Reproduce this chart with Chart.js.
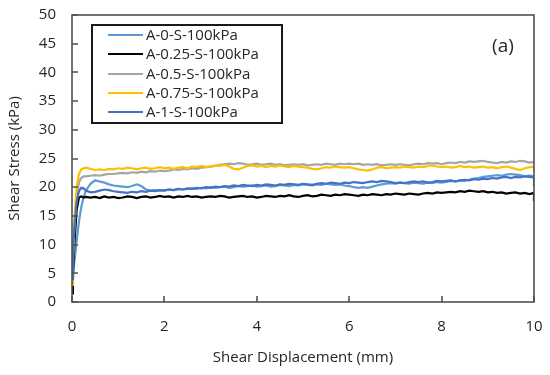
<!DOCTYPE html>
<html>
<head>
<meta charset="utf-8">
<script src="https://cdn.jsdelivr.net/npm/chart.js@4.4.1/dist/chart.umd.min.js"></script>
<style>
  html, body { margin: 0; padding: 0; background: #fff; overflow: hidden; }
  #wrap { width: 550px; height: 375px; }
  canvas { display: block; }
</style>
</head>
<body>
<div id="wrap"><canvas id="chart" width="550" height="375"></canvas></div>
<script>
// series names and colours (Excel palette)
const seriesNames = ['A-0-S-100kPa', 'A-0.25-S-100kPa', 'A-0.5-S-100kPa', 'A-0.75-S-100kPa', 'A-1-S-100kPa'];
const seriesColors = ['#5B9BD5', '#000000', '#A5A5A5', '#FFC000', '#4472C4'];

const xTicks = [0, 2, 4, 6, 8, 10];
const yTicks = [0, 5, 10, 15, 20, 25, 30, 35, 40, 45, 50];

// shear displacement (mm)
const disp = [
  0, 0.02, 0.05, 0.1, 0.15, 0.2, 0.25, 0.3, 0.4, 0.5, 0.6, 0.7, 0.8, 0.9, 1.0,
  1.1, 1.2, 1.3, 1.4, 1.5, 1.6, 1.7, 1.8, 1.9, 2.0,
  2.1, 2.2, 2.3, 2.4, 2.5, 2.6, 2.7, 2.8, 2.9, 3.0,
  3.1, 3.2, 3.3, 3.4, 3.5, 3.6, 3.7, 3.8, 3.9, 4.0,
  4.1, 4.2, 4.3, 4.4, 4.5, 4.6, 4.7, 4.8, 4.9, 5.0,
  5.1, 5.2, 5.3, 5.4, 5.5, 5.6, 5.7, 5.8, 5.9, 6.0,
  6.1, 6.2, 6.3, 6.4, 6.5, 6.6, 6.7, 6.8, 6.9, 7.0,
  7.1, 7.2, 7.3, 7.4, 7.5, 7.6, 7.7, 7.8, 7.9, 8.0,
  8.1, 8.2, 8.3, 8.4, 8.5, 8.6, 8.7, 8.8, 8.9, 9.0,
  9.1, 9.2, 9.3, 9.4, 9.5, 9.6, 9.7, 9.8, 9.9, 10.0,
  10.0
];

// shear stress (kPa) per specimen
const stressA0 = [
  2, 4, 7, 10.5, 14, 16.5, 18.2, 19.4, 20.6, 21.2, 21.0, 20.8, 20.5, 20.3, 20.2,
  20.1, 20.0, 20.2, 20.5, 20.2, 19.6, 19.4, 19.5, 19.4, 19.5,
  19.6, 19.5, 19.7, 19.6, 19.7, 19.8, 19.7, 19.9, 19.8, 20.0,
  19.9, 20.0, 20.1, 19.9, 20.0, 20.2, 20.1, 20.2, 20.3, 20.1,
  20.2, 20.3, 20.1, 20.2, 20.4, 20.3, 20.2, 20.4, 20.3, 20.5,
  20.4, 20.3, 20.5, 20.4, 20.6, 20.5, 20.4, 20.5, 20.3, 20.2,
  20.0, 19.9, 20.0, 19.9, 20.1, 20.3, 20.5, 20.6, 20.7, 20.6,
  20.8, 20.7, 20.6, 20.8, 20.7, 20.6, 20.8, 20.7, 20.9, 20.8,
  20.9, 21.1, 21.0, 21.2, 21.1, 21.3, 21.5, 21.6, 21.8, 21.9,
  22.0, 22.1, 22.0, 22.2, 22.3, 22.2, 22.1, 21.9, 22.0, 21.9,
  21.6
];
const stressA025 = [
  1.5, 5, 10, 16, 18.2, 18.4, 18.2, 18.3, 18.2, 18.3, 18.1, 18.4, 18.2, 18.3, 18.1,
  18.2, 18.4, 18.3, 18.1, 18.3, 18.4, 18.2, 18.3, 18.5, 18.3,
  18.4, 18.2, 18.4, 18.3, 18.5, 18.3, 18.4, 18.2, 18.3, 18.4,
  18.3, 18.5, 18.4, 18.2, 18.3, 18.4, 18.5, 18.3, 18.4, 18.2,
  18.3, 18.5, 18.4, 18.3, 18.5, 18.4, 18.6, 18.4, 18.3, 18.5,
  18.6, 18.4, 18.5, 18.7, 18.6, 18.5, 18.7, 18.6, 18.8, 18.7,
  18.6, 18.5, 18.7, 18.6, 18.8, 18.7, 18.6, 18.8, 18.7, 18.9,
  18.8, 18.7, 18.9, 18.8, 18.7, 18.9, 19.0, 18.9, 19.1, 19.0,
  19.1, 19.2, 19.1, 19.3, 19.2, 19.4, 19.3, 19.2, 19.3, 19.1,
  19.2, 19.0, 19.1, 18.9, 19.0, 19.1, 18.9, 19.0, 18.8, 19.0,
  17.6
];
const stressA05 = [
  3, 7, 13, 18.5, 20.8, 21.6, 21.9, 21.9, 22.0, 22.1, 22.0, 22.2, 22.3, 22.3, 22.4,
  22.5, 22.4, 22.6, 22.5, 22.7, 22.6, 22.8, 22.7, 22.9, 22.8,
  22.9, 23.1, 23.0, 23.2, 23.1, 23.3, 23.2, 23.4, 23.5, 23.6,
  23.7, 23.9, 24.0, 24.1, 24.0, 24.2, 24.1, 23.9, 24.0, 24.1,
  23.9, 24.0, 24.1, 23.9, 24.0, 23.8, 23.9, 24.0, 23.9, 24.0,
  23.8, 23.9, 24.0, 23.9, 24.1, 24.0, 23.9, 24.1, 24.0, 24.1,
  24.0, 24.1, 23.9, 24.0, 23.9, 24.0, 23.8, 23.9, 24.0, 23.9,
  24.0, 23.9, 23.8, 24.0, 24.1, 24.0, 24.2, 24.1, 24.2, 24.0,
  24.2, 24.3, 24.2, 24.4, 24.3, 24.5, 24.4, 24.5, 24.6, 24.4,
  24.3, 24.2, 24.4, 24.3, 24.5, 24.4, 24.6, 24.5, 24.3, 24.4,
  24.0
];
const stressA075 = [
  3, 8, 14, 20, 22.3, 23.1, 23.3, 23.4, 23.2, 23.0, 23.1, 23.0, 23.2, 23.1, 23.3,
  23.2, 23.4, 23.3, 23.1, 23.3, 23.4, 23.2, 23.3, 23.5, 23.3,
  23.4, 23.2, 23.4, 23.5, 23.3, 23.6, 23.5, 23.7, 23.5, 23.6,
  23.8, 23.7, 23.9, 23.6, 23.2, 23.1, 23.4, 23.7, 23.8, 23.6,
  23.7, 23.5, 23.7, 23.6, 23.8, 23.6, 23.5, 23.7, 23.6, 23.5,
  23.4, 23.2, 23.1, 23.3, 23.5, 23.4, 23.6, 23.5, 23.4, 23.5,
  23.3, 23.1, 23.0, 22.9, 23.1, 23.4, 23.5, 23.3, 23.4, 23.5,
  23.4, 23.6, 23.5, 23.4, 23.6, 23.5, 23.7, 23.8, 23.6, 23.5,
  23.6, 23.4, 23.5, 23.7, 23.5, 23.6, 23.4, 23.5, 23.6, 23.4,
  23.5, 23.3, 23.5, 23.6, 23.4, 23.2, 23.0, 23.3, 23.5, 23.6,
  22.8
];
const stressA1 = [
  4, 8, 13, 17.5, 19.3, 19.9, 19.8, 19.4, 19.1, 19.2, 19.4, 19.6, 19.5, 19.3, 19.2,
  19.1, 19.0, 19.2, 19.1, 19.3, 19.2, 19.4, 19.3, 19.5, 19.4,
  19.6, 19.5, 19.7, 19.6, 19.8, 19.7, 19.9, 19.8, 20.0, 19.9,
  20.1, 20.0, 20.2, 20.1, 20.3, 20.2, 20.4, 20.3, 20.2, 20.4,
  20.3, 20.5, 20.4, 20.3, 20.5, 20.4, 20.6, 20.5, 20.4, 20.6,
  20.5, 20.4, 20.6, 20.7, 20.6, 20.8, 20.7, 20.6, 20.8, 20.7,
  20.9, 20.8, 20.7, 20.9, 21.0, 20.9, 21.1, 21.0, 20.9, 20.7,
  20.8, 20.7, 20.9, 21.0, 20.9, 21.0, 20.8, 20.9, 21.1, 21.0,
  21.1, 21.2, 21.0, 21.2, 21.3, 21.2, 21.4, 21.3, 21.5, 21.4,
  21.6, 21.5, 21.7, 21.8, 21.6, 21.8, 21.7, 21.9, 21.8, 21.7,
  20.2
];
const allStress = [stressA0, stressA025, stressA05, stressA075, stressA1];

const FONT = "'Open Sans', sans-serif";
const TEXT = '#262626';
Chart.defaults.font.family = FONT;
Chart.defaults.font.size = 15;
Chart.defaults.color = TEXT;

// frame, inner tick marks, boxed legend and the (a) label
const frameAndLegend = {
  id: 'frameAndLegend',
  afterDraw(chart) {
    const { ctx, chartArea: a, scales: { x, y } } = chart;
    const L = Math.round(a.left), R = Math.round(a.right);
    const T = Math.round(a.top), B = Math.round(a.bottom);
    ctx.save();
    ctx.setLineDash([]);
    ctx.globalAlpha = 1;
    ctx.strokeStyle = '#505050';
    ctx.lineWidth = 1.6;
    ctx.strokeRect(L, T, R - L, B - T);
    ctx.beginPath();
    xTicks.forEach(v => {
      const px = Math.round(x.getPixelForValue(v));
      ctx.moveTo(px, B);
      ctx.lineTo(px, B - 6);
    });
    yTicks.forEach(v => {
      const py = Math.round(y.getPixelForValue(v));
      ctx.moveTo(L, py);
      ctx.lineTo(L + 6, py);
    });
    ctx.stroke();

    // legend box: white fill, 2px dark border
    const bx = 92, by = 25, bw = 190, bh = 98;
    ctx.fillStyle = '#ffffff';
    ctx.fillRect(bx, by, bw, bh);
    ctx.fillStyle = '#1a1a1a';
    ctx.fillRect(bx - 1, by - 1, bw + 2, 2);
    ctx.fillRect(bx - 1, by + bh - 1, bw + 2, 2);
    ctx.fillRect(bx - 1, by - 1, 2, bh + 2);
    ctx.fillRect(bx + bw - 1, by - 1, 2, bh + 2);

    ctx.font = '15px ' + FONT;
    ctx.textBaseline = 'middle';
    ctx.textAlign = 'left';
    chart.data.datasets.forEach((ds, i) => {
      const cy = Math.round(35 + i * 19.3);
      ctx.fillStyle = ds.borderColor;
      ctx.fillRect(108, cy - 1, 35, 2);
      ctx.fillStyle = TEXT;
      ctx.fillText(ds.label, 146, cy + 1);
    });

    ctx.font = '19px ' + FONT;
    ctx.textAlign = 'center';
    ctx.fillText('(a)', 503, 47);
    ctx.restore();
  }
};

new Chart(document.getElementById('chart'), {
  type: 'line',
  data: {
    datasets: seriesNames.map((name, i) => ({
      label: name,
      data: disp.map((d, k) => ({ x: d, y: allStress[i][k] })),
      borderColor: seriesColors[i],
      backgroundColor: seriesColors[i],
      borderWidth: 2.2,
      pointRadius: 0,
      tension: 0,
      fill: false,
      order: seriesNames.length - i
    }))
  },
  options: {
    responsive: false,
    animation: false,
    layout: { padding: { top: 15, right: 16, left: 0, bottom: 0 } },
    plugins: {
      legend: { display: false },
      tooltip: { enabled: false }
    },
    scales: {
      x: {
        type: 'linear',
        min: 0,
        max: 10,
        afterBuildTicks: s => { s.ticks = xTicks.map(v => ({ value: v })); },
        ticks: { padding: 16, color: TEXT },
        grid: { display: false, drawTicks: false },
        border: { display: false },
        title: { display: true, text: 'Shear Displacement (mm)', padding: 8, color: TEXT },
        afterFit: s => { s.height = 73; s.paddingLeft = 0; s.paddingRight = 0; }
      },
      y: {
        type: 'linear',
        min: 0,
        max: 50,
        afterBuildTicks: s => { s.ticks = yTicks.map(v => ({ value: v })); },
        ticks: { padding: 16, color: TEXT },
        grid: { display: false, drawTicks: false },
        border: { display: false },
        title: { display: true, text: 'Shear Stress (kPa)', padding: 6, color: TEXT },
        afterFit: s => { s.width = 72; s.paddingTop = 0; s.paddingBottom = 0; }
      }
    }
  },
  plugins: [frameAndLegend]
});
</script>
</body>
</html>
